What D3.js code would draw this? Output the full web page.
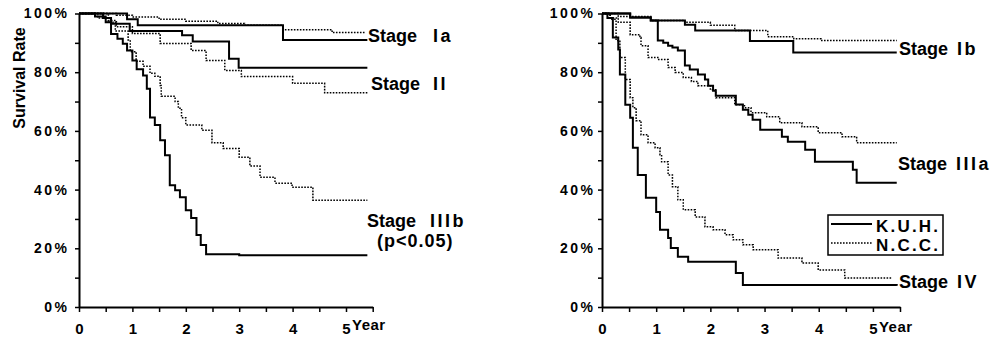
<!DOCTYPE html>
<html>
<head>
<meta charset="utf-8">
<script src="https://cdn.jsdelivr.net/npm/d3@7"></script>
<style>
  html, body { margin: 0; padding: 0; background: #fff; }
  svg { display: block; }
</style>
</head>
<body>
<svg id="chart" width="995" height="341"></svg>
<script>
// ---- data ----
// each curve: [year, survival %] steps, last point = end of follow-up
const yearLabels = [0, 1, 2, 3, 4, 5];
const yearTicks = [0, 0.5, 1, 1.5, 2, 2.5, 3, 3.5, 4, 4.5, 5, 5.5];
const percentLabels = [0, 20, 40, 60, 80, 100];
const percentTicks = [0, 10, 20, 30, 40, 50, 60, 70, 80, 90, 100];

const stageIaKUH = [[0,100],[0.9,98],[1.1,96],[3.82,91],[5.4,91]];
const stageIaNCC = [[0,100],[0.7,99.4],[1.0,98.8],[1.5,98],[2.0,97.4],[2.6,96.6],[3.1,96],[3.82,94.5],[4.74,93.5],[5.35,93.5]];
const stageIIKUH = [[0,100],[0.45,98.5],[0.6,96.5],[0.95,94],[1.93,92.6],[2.13,90.5],[2.81,84.6],[2.99,81.5],[5.4,81.5]];
const stageIINCC = [[0,100],[0.55,97.6],[0.7,95.5],[1.0,93.2],[1.52,89.8],[2.1,87.4],[2.38,84],[2.73,80.6],[3.04,78.5],[4.0,76.2],[4.6,73],[5.4,73]];
const stageIIIbKUH = [[0,100],[0.3,99],[0.5,97],[0.6,93],[0.72,91.4],[0.82,89.7],[0.9,87.4],[1.0,84],[1.08,81],[1.2,78.9],[1.27,74.4],[1.33,64.6],[1.42,62],[1.52,56.8],[1.61,51.7],[1.7,41.5],[1.8,39.8],[1.89,37.4],[2.0,33],[2.1,30.3],[2.2,24.5],[2.28,21.1],[2.38,18],[3.0,17.6],[5.4,17.6]];
const stageIIIbNCC = [[0,100],[0.35,98.5],[0.55,97],[0.68,94],[0.92,91],[0.96,87],[1.07,83.7],[1.2,82],[1.33,79.6],[1.42,78.6],[1.52,75.5],[1.54,71.8],[1.8,70],[1.86,67.7],[1.92,64.5],[2.0,62],[2.3,60.2],[2.49,56],[2.7,54],[3.0,51],[3.2,48],[3.39,44.2],[3.67,42.2],[3.99,40.8],[4.38,36.4],[5.4,36.4]];

const stageIbKUH = [[0,100],[0.52,98.6],[0.9,97.6],[1.53,96.2],[1.72,94.2],[2.73,90.6],[3.53,86.7],[5.44,86.7]];
const stageIbNCC = [[0,100],[0.3,99],[0.9,97.6],[1.53,97],[2.0,96],[2.45,94.2],[3.06,92.1],[3.54,91.4],[4.04,90.8],[5.44,90.8]];
const stageIIIaKUH = [[0,100],[0.52,98.6],[0.9,97.6],[1.03,90.8],[1.13,90],[1.22,89],[1.3,88.4],[1.4,87.4],[1.53,82.3],[1.62,80.9],[1.77,79.2],[1.9,77.5],[1.96,75.4],[2.05,73.7],[2.1,72],[2.47,69],[2.6,67.2],[2.7,65.5],[2.78,63.8],[2.92,60.4],[3.32,58],[3.43,56.3],[3.75,53.6],[3.93,49.5],[4.63,46.8],[4.7,42.3],[5.44,42.3]];
const stageIIIaNCC = [[0,100],[0.15,98.5],[0.3,97],[0.52,92.8],[0.7,91.8],[0.72,89],[0.85,85],[1.03,84.3],[1.22,81.6],[1.35,79.9],[1.5,78.2],[1.65,76.8],[1.77,75.4],[2.0,74],[2.1,71.3],[2.45,68.9],[2.63,67.9],[2.75,66.2],[3.04,64.8],[3.28,62.8],[3.69,61.4],[3.99,59.4],[4.43,58],[4.7,56],[5.44,56]];
const stageIVKUH = [[0,100],[0.1,98.5],[0.2,91.8],[0.3,87.7],[0.33,79.2],[0.43,68.9],[0.52,64.5],[0.57,54.3],[0.66,45],[0.81,37.2],[1.0,32.4],[1.07,26.3],[1.22,23.5],[1.27,20.1],[1.4,17.1],[1.59,15.4],[2.47,11.6],[2.6,7.5],[5.44,7.2]];
const stageIVNCC = [[0,100],[0.15,98],[0.26,90.8],[0.33,85],[0.43,77.5],[0.52,71.3],[0.57,67.9],[0.63,63.5],[0.72,58.7],[0.85,56],[0.98,54.3],[1.07,51.9],[1.1,49.5],[1.22,45],[1.3,41],[1.4,36.5],[1.5,33.1],[1.72,30.7],[1.9,27.3],[2.05,26.3],[2.27,24.6],[2.42,22.9],[2.6,21.2],[2.79,19.5],[3.25,16.7],[3.69,15],[3.99,12.6],[4.48,9.9],[5.35,9.9]];

const legendNames = ["K.U.H.", "N.C.C."];

// ---- drawing ----
const FONT = '"Liberation Sans", Arial, Helvetica, sans-serif';
const svg = d3.select("#chart")
  .attr("font-family", FONT)
  .attr("font-weight", "bold");

const y = d3.scaleLinear().domain([0, 100]).range([307, 13.5]);

function drawPanel(p) {
  const g = svg.append("g");
  const x = d3.scaleLinear().domain([0, 5.5]).range([p.left, p.right]);

  const line = d3.line()
    .x(d => x(d[0]))
    .y(d => y(d[1]))
    .curve(d3.curveStepAfter);

  p.curves.forEach(c => {
    g.append("path")
      .datum(c.data)
      .attr("d", line)
      .attr("fill", "none")
      .attr("stroke", "#000")
      .attr("stroke-width", c.dotted ? 1.5 : 2)
      .attr("stroke-dasharray", c.dotted ? "1.6,1.4" : null);
  });

  // y axis
  g.append("g")
    .attr("transform", "translate(" + p.left + ",0)")
    .call(d3.axisLeft(y)
      .tickValues(percentTicks)
      .tickSize(4)
      .tickSizeOuter(0)
      .tickPadding(p.yPad)
      .tickFormat(d => percentLabels.includes(d) ? d + "%" : ""))
    .attr("font-family", FONT)
    .attr("font-size", 14)
    .call(a => a.select(".domain").attr("stroke-width", 2))
    .call(a => a.selectAll(".tick line").attr("stroke-width", 1.5))
    .call(a => a.selectAll(".tick text").attr("letter-spacing", 2.5).attr("fill", "#000"));

  // x axis
  g.append("g")
    .attr("transform", "translate(0," + y(0) + ")")
    .call(d3.axisBottom(x)
      .tickValues(yearTicks)
      .tickSize(5)
      .tickSizeOuter(0)
      .tickPadding(11)
      .tickFormat(d => yearLabels.includes(d) ? d : ""))
    .attr("font-family", FONT)
    .attr("font-size", 15)
    .call(a => a.select(".domain").attr("stroke-width", 2))
    .call(a => a.selectAll(".tick line").attr("stroke-width", 1.5))
    .call(a => a.selectAll(".tick text").attr("fill", "#000"));

  g.append("text")
    .attr("x", x(5) + 6)
    .attr("y", p.yearBase)
    .attr("font-size", 15)
    .attr("letter-spacing", 0.5)
    .text("Year");

  // stage labels
  p.labels.forEach(l => {
    const t = g.append("text").attr("font-size", 18).attr("y", l.y);
    t.append("tspan").attr("x", l.x).text("Stage");
    t.append("tspan").attr("x", l.rx).attr("letter-spacing", 2.5).text(l.stage);
    if (l.note) {
      g.append("text")
        .attr("font-size", 18)
        .attr("letter-spacing", 1)
        .attr("x", l.noteX)
        .attr("y", l.noteY)
        .text(l.note);
    }
  });
  return g;
}

const left = drawPanel({
  left: 79, right: 372.7, yPad: 5.5, yearBase: 330,
  curves: [
    { data: stageIaKUH }, { data: stageIaNCC, dotted: true },
    { data: stageIIKUH }, { data: stageIINCC, dotted: true },
    { data: stageIIIbKUH }, { data: stageIIIbNCC, dotted: true }
  ],
  labels: [
    { stage: "Ia", x: 368, rx: 433, y: 42 },
    { stage: "II", x: 371, rx: 433, y: 90 },
    { stage: "IIIb", x: 367, rx: 430, y: 227, note: "(p<0.05)", noteX: 377, noteY: 247 }
  ]
});

left.append("text")
  .attr("transform", "translate(25,78) rotate(-90)")
  .attr("text-anchor", "middle")
  .attr("font-size", 16)
  .text("Survival Rate");

const right = drawPanel({
  left: 602, right: 900, yPad: 2.5, yearBase: 332,
  curves: [
    { data: stageIbKUH }, { data: stageIbNCC, dotted: true },
    { data: stageIIIaKUH }, { data: stageIIIaNCC, dotted: true },
    { data: stageIVKUH }, { data: stageIVNCC, dotted: true }
  ],
  labels: [
    { stage: "Ib", x: 899, rx: 957, y: 55 },
    { stage: "IIIa", x: 898, rx: 956, y: 170 },
    { stage: "IV", x: 899, rx: 957, y: 288 }
  ]
});

// legend
const legend = right.append("g");
legend.append("rect")
  .attr("x", 828).attr("y", 215)
  .attr("width", 115).attr("height", 40)
  .attr("fill", "#fff")
  .attr("stroke", "#000")
  .attr("stroke-width", 1.5);

legend.selectAll(".key")
  .data(legendNames)
  .join("line")
  .attr("x1", 831).attr("x2", 872)
  .attr("y1", (d, i) => 224 + i * 19)
  .attr("y2", (d, i) => 224 + i * 19)
  .attr("stroke", "#000")
  .attr("stroke-width", (d, i) => i ? 1.5 : 1.8)
  .attr("stroke-dasharray", (d, i) => i ? "1.6,1.4" : null);

legend.selectAll(".name")
  .data(legendNames)
  .join("text")
  .attr("x", 876)
  .attr("y", (d, i) => 232 + i * 19)
  .attr("font-size", 17)
  .attr("letter-spacing", 2.2)
  .text(d => d);
</script>
</body>
</html>
